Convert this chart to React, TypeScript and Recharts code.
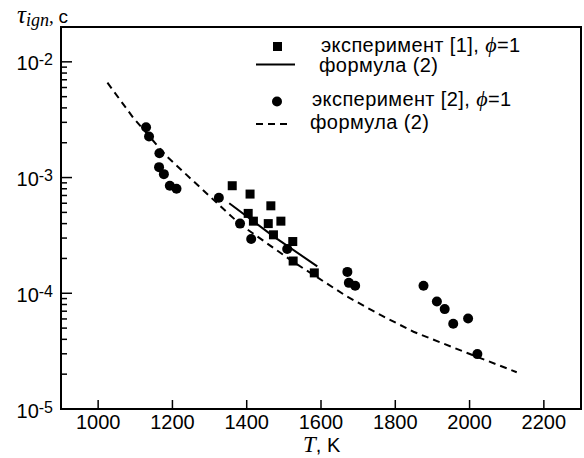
import React from 'react';
import { ComposedChart, Scatter, XAxis, YAxis, ReferenceArea, Legend } from 'recharts';

// Ось T, K
const tempTicks = [1000, 1200, 1400, 1600, 1800, 2000, 2200];
// декады логарифмической оси (10^e) и промежуточные множители
const decades = [-5, -4, -3];
const mantissas = [1, 2, 3, 4, 5, 6, 7, 8, 9];
const topTick = 1e-2;

// эксперимент [1], phi=1 (квадраты)
const exp1T = [1361, 1409, 1465, 1404, 1418, 1458, 1492, 1472, 1524, 1525, 1582];
const exp1Tau = [8.5e-4, 7.2e-4, 5.7e-4, 4.9e-4, 4.2e-4, 4.0e-4, 4.2e-4, 3.2e-4, 2.8e-4, 1.9e-4, 1.5e-4];

// формула (2), сплошная
const fit1T = [1353, 1472, 1590];
const fit1Tau = [6.0e-4, 3.1e-4, 1.71e-4];

// эксперимент [2], phi=1 (кружки)
const exp2T = [1129, 1137, 1165, 1164, 1177, 1193, 1211, 1325, 1382, 1412, 1509, 1671, 1675, 1692, 1876, 1912, 1933, 1956, 1996, 2021];
const exp2Tau = [2.72e-3, 2.26e-3, 1.62e-3, 1.23e-3, 1.07e-3, 8.5e-4, 8.0e-4, 6.7e-4, 4.0e-4, 2.94e-4, 2.41e-4, 1.53e-4, 1.23e-4, 1.16e-4, 1.16e-4, 8.5e-5, 7.3e-5, 5.45e-5, 6.05e-5, 2.98e-5];

// формула (2), пунктир
const fit2T = [1025, 1095, 1185, 1301, 1382, 1524, 1669, 1760, 1849, 1992, 2127];
const fit2Tau = [6.6e-3, 3.27e-3, 1.52e-3, 6.86e-4, 3.95e-4, 1.88e-4, 9.42e-5, 6.5e-5, 4.65e-5, 3.06e-5, 2.08e-5];

const zip = (ts: number[], taus: number[]) => ts.map((T, i) => ({ T, tau: taus[i] }));

const exp1 = zip(exp1T, exp1Tau);
const fit1 = zip(fit1T, fit1Tau);
const exp2 = zip(exp2T, exp2Tau);
const fit2 = zip(fit2T, fit2Tau);

const logTicks: number[] = [];
decades.forEach(e => mantissas.forEach(m => logTicks.push(Number((m * Math.pow(10, e)).toPrecision(3)))));
logTicks.push(topTick);

const SANS = '"Liberation Sans", Arial, sans-serif';
const SERIF = '"Liberation Serif", "Times New Roman", serif';

function SquareDot(props: any) {
  const { cx, cy } = props;
  return <rect x={cx - 4.5} y={cy - 4.5} width={9} height={9} fill="#000" />;
}

function RoundDot(props: any) {
  const { cx, cy } = props;
  return <circle cx={cx} cy={cy} r={5} fill="#000" />;
}

const NoDot = () => <g />;

function YTick(props: any) {
  const { x, y, payload } = props;
  const lg = Math.log10(payload.value);
  const e = Math.round(lg);
  const major = Math.abs(lg - e) < 1e-6;
  return (
    <g>
      <line x1={x} x2={x + (major ? 11 : 6)} y1={y} y2={y} stroke="#000" strokeWidth={1.5} />
      {major && (
        <text x={x - 8} y={y + 8.5} textAnchor="end" fontFamily={SANS} fontSize={20} fill="#000">
          10<tspan dy={-5} fontSize={16}>{`${e}`}</tspan>
        </text>
      )}
    </g>
  );
}

function XTick(props: any) {
  const { x, y, payload } = props;
  return (
    <g>
      <line x1={x} x2={x} y1={y} y2={y - 9} stroke="#000" strokeWidth={1.5} />
      <text x={x} y={y + 20} textAnchor="middle" fontFamily={SANS} fontSize={20} fill="#000">
        {payload.value}
      </text>
    </g>
  );
}

function XLabel() {
  return (
    <text x={303} y={452} fill="#000">
      <tspan fontFamily={SERIF} fontStyle="italic" fontSize={23}>T</tspan>
      <tspan fontFamily={SANS} fontSize={20}>, K</tspan>
    </text>
  );
}

function YLabel() {
  return (
    <text x={17} y={23} fill="#000">
      <tspan fontFamily={SERIF} fontStyle="italic" fontSize={25}>τ</tspan>
      <tspan fontFamily={SERIF} fontStyle="italic" fontSize={18} dy={3}>ign</tspan>
      <tspan fontFamily={SERIF} fontSize={19} dy={-3}>, </tspan>
      <tspan fontFamily={SANS} fontSize={19}>с</tspan>
    </text>
  );
}

// легенда в координатах svg, сдвинутого на (250, 30)
function LegendBox() {
  const ox = 250;
  const oy = 30;
  return (
    <svg width={320} height={110} style={{ display: 'block' }}>
      <g transform={`translate(${-ox}, ${-oy})`} fill="#000" fontFamily={SANS} fontSize={20} letterSpacing={0.4}>
        <rect x={273} y={42} width={9} height={9} />
        <text x={321} y={52}>
          эксперимент [1],  <tspan fontFamily={SERIF} fontStyle="italic" fontSize={22}>ϕ</tspan>=1
        </text>
        <line x1={256} x2={295} y1={64.5} y2={64.5} stroke="#000" strokeWidth={2} />
        <text x={319} y={72}>формула (2)</text>
        <circle cx={277} cy={101.5} r={5} />
        <text x={312} y={106}>
          эксперимент [2], <tspan fontFamily={SERIF} fontStyle="italic" fontSize={22}>ϕ</tspan>=1
        </text>
        <line x1={256} x2={291} y1={124} y2={124} stroke="#000" strokeWidth={2} strokeDasharray="7 5" />
        <text x={310} y={129}>формула (2)</text>
      </g>
    </svg>
  );
}

export default function App() {
  return (
    <div style={{ width: 584, height: 458, background: '#fff' }}>
      <style>{'body{margin:0;background:#fff}'}</style>
      <ComposedChart width={584} height={458} margin={{ top: 27, right: 3, bottom: 0, left: 0 }}>
        <XAxis
          dataKey="T"
          type="number"
          domain={[900, 2300]}
          ticks={tempTicks}
          interval={0}
          allowDataOverflow
          height={49}
          tickSize={0}
          tickMargin={0}
          tickLine={false}
          axisLine={{ stroke: '#000', strokeWidth: 2 }}
          tick={<XTick />}
          label={<XLabel />}
        />
        <YAxis
          dataKey="tau"
          type="number"
          scale="log"
          domain={[1e-5, 0.02]}
          ticks={logTicks}
          interval={0}
          allowDataOverflow
          width={61}
          tickSize={0}
          tickMargin={0}
          tickLine={false}
          axisLine={{ stroke: '#000', strokeWidth: 2 }}
          tick={<YTick />}
          label={<YLabel />}
        />
        <ReferenceArea x1={900} x2={2300} y1={1e-5} y2={0.02} fill="none" stroke="#000" strokeWidth={2} ifOverflow="visible" />
        <Scatter name="формула (2) пунктир" data={fit2} shape={NoDot} line={{ stroke: '#000', strokeWidth: 2, strokeDasharray: '7 5' }} isAnimationActive={false} />
        <Scatter name="формула (2)" data={fit1} shape={NoDot} line={{ stroke: '#000', strokeWidth: 2 }} isAnimationActive={false} />
        <Scatter name="эксперимент [1]" data={exp1} shape={SquareDot} isAnimationActive={false} />
        <Scatter name="эксперимент [2]" data={exp2} shape={RoundDot} isAnimationActive={false} />
        <Legend
          layout="vertical"
          align="center"
          verticalAlign="middle"
          content={() => <LegendBox />}
          wrapperStyle={{ position: 'absolute', left: 250, top: 30, width: 320, height: 110 }}
        />
      </ComposedChart>
    </div>
  );
}
